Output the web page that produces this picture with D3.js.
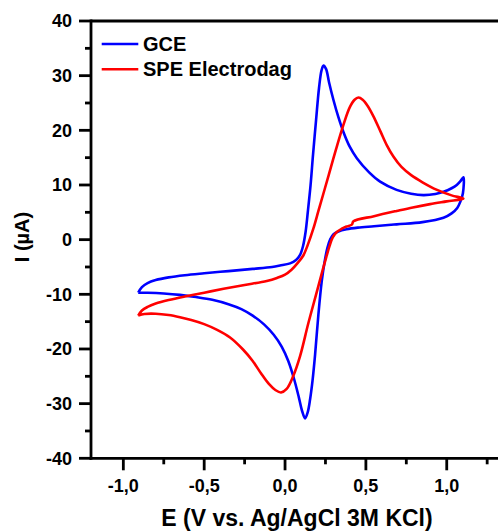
<!DOCTYPE html>
<html>
<head>
<meta charset="utf-8">
<script src="https://cdn.jsdelivr.net/npm/d3@7"></script>
<style>
  html, body { margin: 0; padding: 0; background: #fff; }
  svg { display: block; }
  text { font-family: "Liberation Sans", Arial, sans-serif; font-weight: bold; fill: #000; }
</style>
</head>
<body>
<svg id="chart" width="498" height="531"></svg>
<script>
// ---- Data (E in V, I in µA) ----
const seriesNames = ["GCE", "SPE Electrodag"];
const seriesColors = ["#0000FF", "#FF0000"];

const gceForward = [
  [-0.908, -9.7], [-0.885, -8.7], [-0.85, -7.95], [-0.8, -7.4], [-0.72, -6.9],
  [-0.62, -6.5], [-0.5, -6.15], [-0.35, -5.75], [-0.2, -5.35], [-0.08, -5.0],
  [-0.031, -4.74], [0.031, -4.34], [0.068, -3.73], [0.093, -2.8], [0.111, -1.2],
  [0.127, 1.4], [0.142, 5.4], [0.158, 10.0], [0.173, 15.5], [0.192, 21.9],
  [0.210, 27.7], [0.226, 31.0], [0.238, 31.85], [0.254, 31.2], [0.272, 28.8],
  [0.299, 25.6], [0.33, 22.4], [0.361, 19.7], [0.40, 17.0], [0.444, 14.9],
  [0.52, 12.3], [0.588, 10.6], [0.69, 9.1], [0.78, 8.4], [0.856, 8.15],
  [0.93, 8.35], [0.98, 8.75], [1.03, 9.4], [1.062, 10.0], [1.085, 10.7], [1.103, 11.4]
];
const gceReverse = [
  [1.103, 11.4], [1.1, 8.5], [1.085, 7.0], [1.065, 5.8], [1.03, 4.8],
  [0.98, 4.0], [0.85, 3.2], [0.69, 2.8], [0.55, 2.45], [0.45, 2.2],
  [0.38, 1.9], [0.33, 1.5], [0.30, 1.0], [0.28, 0.1], [0.262, -1.5],
  [0.245, -4.0], [0.227, -7.6], [0.206, -13.8], [0.186, -21.0], [0.17, -25.8],
  [0.155, -29.2], [0.14, -31.6], [0.124, -32.7], [0.105, -31.3], [0.085, -28.8],
  [0.055, -25.4], [0.02, -22.2], [-0.02, -19.6], [-0.07, -17.4], [-0.13, -15.5],
  [-0.2, -13.9], [-0.27, -12.7], [-0.35, -11.8], [-0.45, -11.0], [-0.55, -10.5],
  [-0.65, -10.1], [-0.75, -9.85], [-0.85, -9.72], [-0.908, -9.7]
];
const speForward = [
  [-0.908, -13.9], [-0.885, -12.95], [-0.85, -12.3], [-0.8, -11.7], [-0.72, -11.05],
  [-0.62, -10.4], [-0.5, -9.7], [-0.38, -9.0], [-0.25, -8.3], [-0.113, -7.55],
  [-0.05, -7.0], [0.0, -6.4], [0.04, -5.5], [0.08, -4.2], [0.113, -2.9],
  [0.14, -1.0], [0.175, 2.0], [0.206, 5.2], [0.237, 8.4], [0.27, 11.8],
  [0.316, 16.6], [0.361, 21.0], [0.40, 24.2], [0.43, 25.6], [0.454, 26.0],
  [0.48, 25.6], [0.51, 24.5], [0.546, 22.6], [0.59, 19.8], [0.629, 17.3],
  [0.67, 15.2], [0.72, 13.3], [0.78, 11.8], [0.85, 10.5], [0.94, 9.1],
  [1.03, 8.1], [1.103, 7.5]
];
const speReverse = [
  [1.103, 7.5], [1.0, 7.0], [0.897, 6.5], [0.79, 5.9], [0.69, 5.25],
  [0.55, 4.3], [0.423, 3.35], [0.413, 2.75], [0.38, 2.4], [0.351, 2.0],
  [0.32, 1.4], [0.295, 0.4], [0.275, -1.2], [0.255, -3.2], [0.235, -5.3],
  [0.196, -9.6], [0.144, -15.3], [0.093, -21.3], [0.05, -25.0], [0.01, -27.3],
  [-0.025, -27.95], [-0.06, -27.5], [-0.1, -26.4], [-0.15, -24.4], [-0.2, -22.2],
  [-0.26, -20.1], [-0.34, -17.9], [-0.42, -16.5], [-0.5, -15.45], [-0.58, -14.7],
  [-0.65, -14.2], [-0.72, -13.8], [-0.8, -13.55], [-0.87, -13.6], [-0.908, -13.9]
];

const xMajorTicks = [-1.0, -0.5, 0.0, 0.5, 1.0];
const xMinorTicks = [-0.75, -0.25, 0.25, 0.75, 1.25];
const yMajorTicks = [-40, -30, -20, -10, 0, 10, 20, 30, 40];
const yMinorTicks = [-35, -25, -15, -5, 5, 15, 25, 35];
const xTitle = "E (V vs. Ag/AgCl 3M KCl)";
const yTitle = "I (µA)";

// ---- Chart ----
const svg = d3.select("#chart");
const x = d3.scaleLinear().domain([-1.2, 1.4]).range([91, 91 + 2.6 * 161.7]);
const y = d3.scaleLinear().domain([-40, 40]).range([458.3, 21]);

const fmt = v => d3.format(".1f")(v).replace(".", ",").replace("−", "-");

// Curves
const line = d3.line().x(d => x(d[0])).y(d => y(d[1])).curve(d3.curveCatmullRom.alpha(0.5));
const curves = [gceForward.concat(gceReverse.slice(1)), speForward.concat(speReverse.slice(1))];
const plot = svg.append("g");
curves.forEach((c, i) => {
  plot.append("path")
    .attr("d", line(c))
    .attr("fill", "none")
    .attr("stroke", seriesColors[i])
    .attr("stroke-width", 2.6)
    .attr("stroke-linejoin", "round");
});

// Axes
const axisG = svg.append("g").attr("stroke", "#000").attr("stroke-width", 2.8);
const x0 = x.range()[0];
const yBottom = y(-40), yTop = y(40);
axisG.append("line").attr("x1", x0).attr("x2", 520).attr("y1", yTop).attr("y2", yTop);
axisG.append("line").attr("x1", x0 - 1.4).attr("x2", 520).attr("y1", yBottom).attr("y2", yBottom);
axisG.append("line").attr("x1", x0).attr("x2", x0).attr("y1", yTop - 1.4).attr("y2", yBottom + 1.4);

// y ticks
yMajorTicks.forEach(v => {
  axisG.append("line").attr("x1", x0 - 12).attr("x2", x0).attr("y1", y(v)).attr("y2", y(v));
  svg.append("text").attr("x", 72).attr("y", y(v)).attr("dy", "0.36em")
    .attr("text-anchor", "end").attr("font-size", 18).text(d3.format("d")(v).replace("−", "-"));
});
yMinorTicks.forEach(v => {
  axisG.append("line").attr("x1", x0 - 6).attr("x2", x0).attr("y1", y(v)).attr("y2", y(v));
});
// x ticks
xMajorTicks.forEach(v => {
  axisG.append("line").attr("x1", x(v)).attr("x2", x(v)).attr("y1", yBottom).attr("y2", yBottom + 12);
  svg.append("text").attr("x", x(v)).attr("y", 492)
    .attr("text-anchor", "middle").attr("font-size", 18).text(fmt(v));
});
xMinorTicks.forEach(v => {
  axisG.append("line").attr("x1", x(v)).attr("x2", x(v)).attr("y1", yBottom).attr("y2", yBottom + 6);
});

// Titles
svg.append("text").attr("x", 297).attr("y", 526).attr("text-anchor", "middle")
  .attr("font-size", 23).text(xTitle);
svg.append("text").attr("transform", "translate(29,237) rotate(-90)")
  .attr("text-anchor", "middle").attr("font-size", 20).text(yTitle);

// Legend
const legendY = [44, 69.3];
seriesNames.forEach((n, i) => {
  svg.append("line").attr("x1", 101.7).attr("x2", 138.3).attr("y1", legendY[i]).attr("y2", legendY[i])
    .attr("stroke", seriesColors[i]).attr("stroke-width", 2.6);
  svg.append("text").attr("x", 143).attr("y", legendY[i] + 6.8).attr("font-size", 20).text(n);
});
</script>
</body>
</html>
